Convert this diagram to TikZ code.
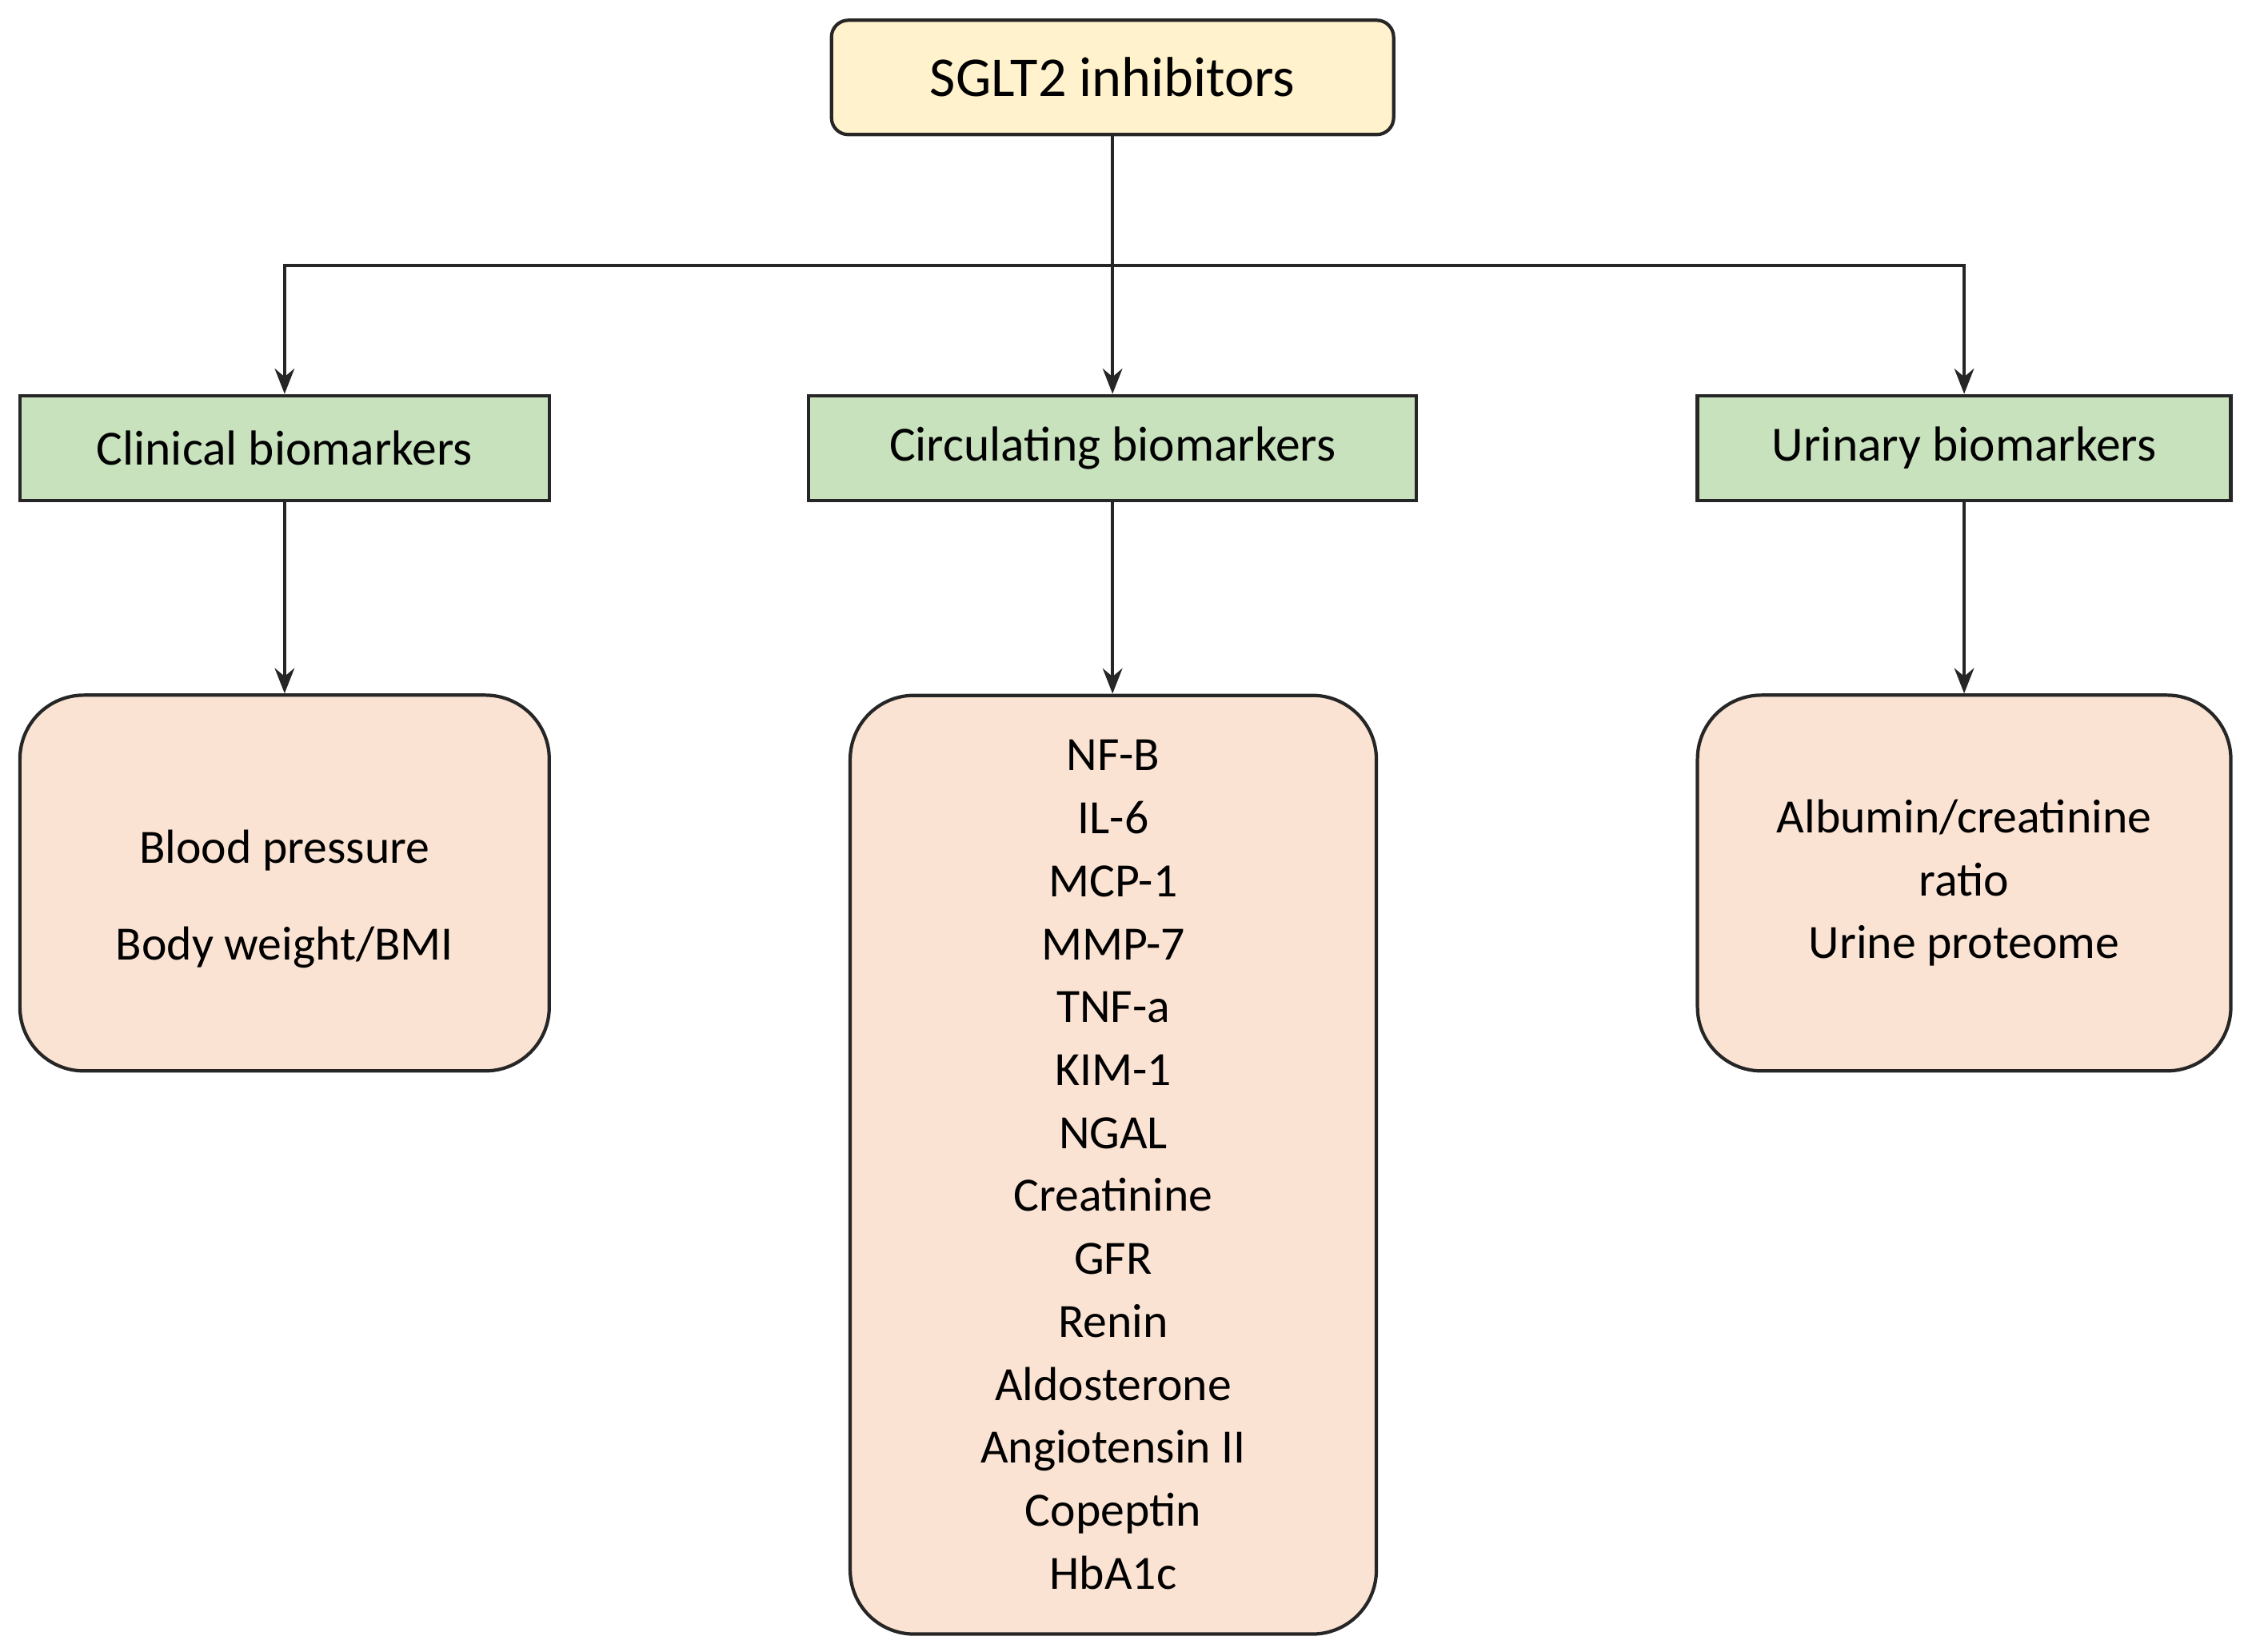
\documentclass[tikz,border=0pt]{standalone}
\usepackage{fontspec}
\setmainfont{Carlito}
\usetikzlibrary{arrows.meta}
\definecolor{topfill}{HTML}{FFF2CC}
\definecolor{greenfill}{HTML}{C9E2BE}
\definecolor{pinkfill}{HTML}{FBE3D3}
\begin{document}
\begin{tikzpicture}[x=0.01793cm,y=-0.01793cm,
		>={Stealth[length=9pt,width=7pt]},
		line/.style={line width=1.2pt,draw=black!85},
		head/.style={line,fill=greenfill,minimum height=1.31cm,font=\fontsize{17.5}{21}\selectfont},
		list/.style={line,fill=pinkfill,rounded corners=0.8cm,align=center,font=\fontsize{17}{22.4}\selectfont}]
	\useasboundingbox (0,0) rectangle (1568,1152);
	\node[line,fill=topfill,rounded corners=6pt,minimum width=7.03cm,minimum height=1.43cm,
		font=\fontsize{20}{24}\selectfont] (sglt) at (776,54) {SGLT2 inhibitors};
	\node[head,minimum width=6.62cm] (clin) at (198.5,312.5) {Clinical biomarkers};
	\node[head,minimum width=7.60cm] (circ) at (776,312.5) {Circulating biomarkers};
	\node[head,minimum width=6.67cm] (uri) at (1370,312.5) {Urinary biomarkers};
	\node[list,minimum width=6.62cm,minimum height=4.70cm] (clinl) at (198.5,616) {\rule{0pt}{23pt}Blood pressure\\[12pt]Body weight/BMI};
	\node[list,minimum width=6.58cm,minimum height=11.74cm] (circl) at (776.5,812.5) {NF-B\\IL-6\\MCP-1\\MMP-7\\TNF-a\\KIM-1\\NGAL\\Creatinine\\GFR\\Renin\\Aldosterone\\Angiotensin II\\Copeptin\\HbA1c};
	\node[list,minimum width=6.67cm,minimum height=4.70cm] (uril) at (1370,616) {Albumin/creatinine\\ratio\\Urine proteome};
	\coordinate (split) at (776,185);
	\draw[line,->] (sglt) -- (circ);
	\draw[line,->] (split) -| (clin);
	\draw[line,->] (split) -| (uri);
	\draw[line,->] (clin) -- (clinl);
	\draw[line,->] (circ) -- (circl.north -| circ);
	\draw[line,->] (uri) -- (uril);
\end{tikzpicture}
\end{document}
